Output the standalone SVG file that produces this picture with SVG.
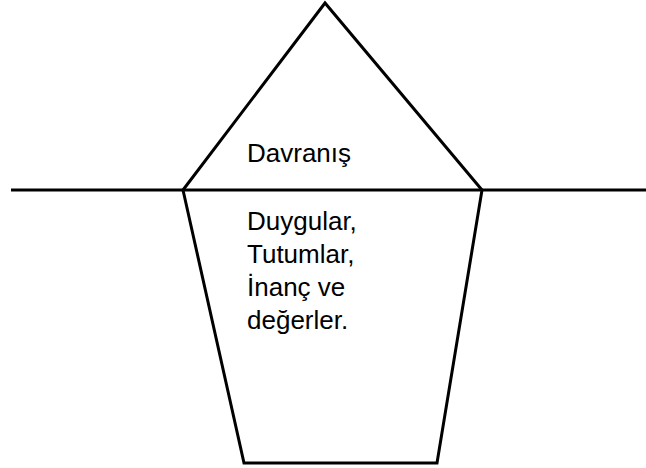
<svg xmlns="http://www.w3.org/2000/svg" width="646" height="468" viewBox="0 0 646 468">
<style>
.ln{fill:none;stroke:#000;stroke-width:3;stroke-linejoin:miter}
.t{font-family:"Liberation Sans",Arial,sans-serif;font-size:26px;fill:#000}
</style>
<rect width="646" height="468" fill="#fff"/>
<g id="connectors">
<line class="ln" x1="11" y1="190" x2="646" y2="190"/>
</g>
<g id="triangle">
<polyline class="ln" points="183,190 325,3 482,190"/>
<text class="t" x="247" y="162">Davranış</text>
</g>
<g id="pentagon">
<polyline class="ln" points="183,190 244,463 437,463 482,190"/>
<text class="t" x="247" y="230">Duygular,</text>
<text class="t" x="247" y="263">Tutumlar,</text>
<text class="t" x="247" y="296">İnanç ve</text>
<text class="t" x="247" y="329">değerler.</text>
</g>
</svg>
